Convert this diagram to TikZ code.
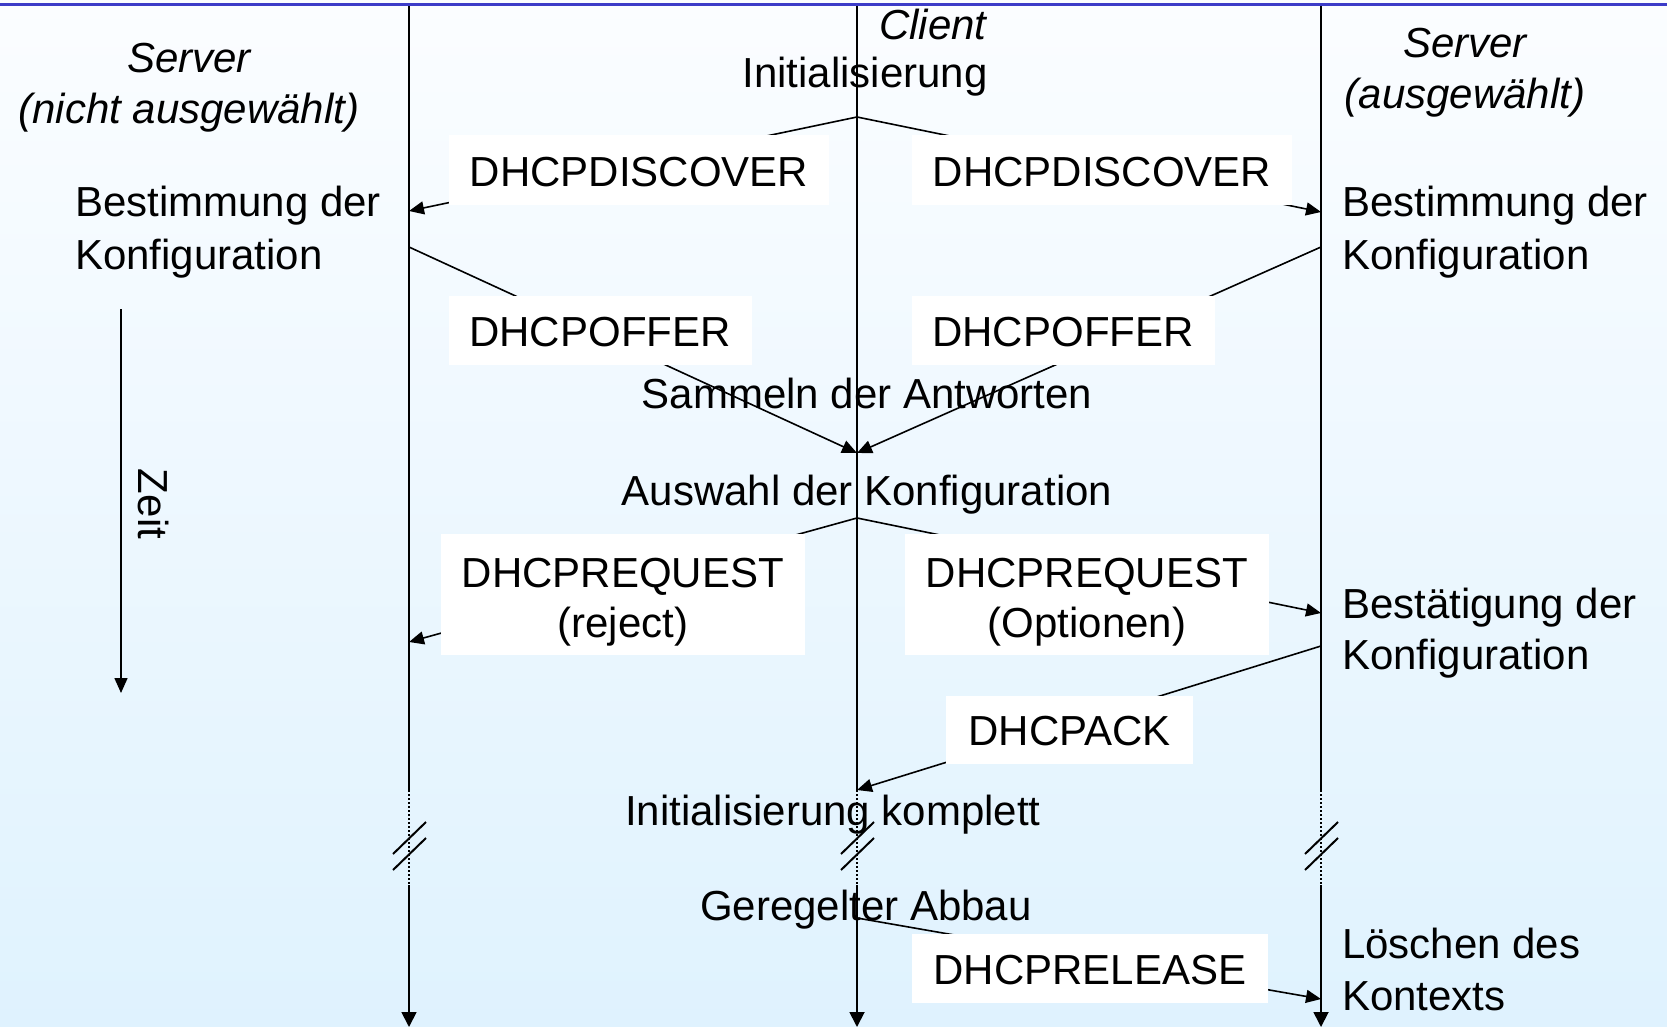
\documentclass[tikz,border=0pt]{standalone}
\usepackage{fontspec}
\setmainfont{Liberation Sans}
\usetikzlibrary{arrows.meta}
\definecolor{bgtop}{RGB}{251,253,255}
\definecolor{bgbot}{RGB}{223,242,254}
\definecolor{topline}{RGB}{60,60,200}
\begin{document}
\begin{tikzpicture}[x=1pt,y=-1pt,
  txt/.style={font=\fontsize{42}{51}\selectfont, inner sep=0pt, anchor=base},
  txtl/.style={txt, anchor=base west},
  ital/.style={txt, font=\fontsize{42}{51}\selectfont\itshape},
  msgbox/.style={fill=white, draw=none, inner sep=0pt},
  life/.style={line width=1.8pt},
  lifeend/.style={line width=1.8pt, -{Triangle[length=15pt,width=15pt]}},
  msg/.style={line width=1.6pt, -{Triangle[length=15pt,width=13pt]}},
  brk/.style={line width=1.8pt, dash pattern=on 2pt off 2pt},
  slash/.style={line width=2pt},
]
\useasboundingbox (0,0) rectangle (1667,1027);
\shade[top color=bgtop, bottom color=bgbot] (0,0) rectangle (1667,1027);

% lifeline coordinates
\foreach \n/\x in {L/409, C/857, R/1321}{
  \coordinate (\n top) at (\x,5);
  \coordinate (\n b1) at (\x,790);
  \coordinate (\n b2) at (\x,885);
  \coordinate (\n bot) at (\x,1027);
  \coordinate (\n mid) at (\x,846);
}
\foreach \n in {L,C,R}{
  \draw[life] (\n top) -- (\n b1);
  \draw[brk] (\n b1) -- (\n b2);
  \draw[lifeend] (\n b2) -- (\n bot);
  \draw[slash] ([shift={(-16,8)}]\n mid) -- ++(33,-32);
  \draw[slash] ([shift={(-16,24)}]\n mid) -- ++(33,-32);
}

% message end points
\coordinate (cDisc) at (857,117);
\coordinate (lDisc) at (409,211);
\coordinate (rDisc) at (1321,212);
\coordinate (lOff) at (409,247);
\coordinate (rOff) at (1321,247);
\coordinate (cOff) at (857,453);
\coordinate (cReq) at (857,518);
\coordinate (lReq) at (409,642);
\coordinate (rReq) at (1321,613);
\coordinate (rAck) at (1321,646);
\coordinate (cAck) at (857,790);
\coordinate (cRel) at (857,918);
\coordinate (rRel) at (1321,999);

\draw[msg] (cDisc) -- (lDisc);
\draw[msg] (cDisc) -- (rDisc);
\draw[msg] (lOff) -- (cOff);
\draw[msg] (rOff) -- (cOff);
\draw[msg] (cReq) -- (lReq);
\draw[msg] (cReq) -- (rReq);
\draw[msg] (rAck) -- (cAck);
\draw[msg] (cRel) -- (rRel);

% white label boxes
\node[msgbox, minimum width=380pt, minimum height=70pt] (discLbox) at (639,170) {};
\node[msgbox, minimum width=380pt, minimum height=70pt] (discRbox) at (1102,170) {};
\node[msgbox, minimum width=303pt, minimum height=69pt] (offLbox) at (600.5,330.5) {};
\node[msgbox, minimum width=303pt, minimum height=69pt] (offRbox) at (1063.5,330.5) {};
\node[msgbox, minimum width=364pt, minimum height=121pt] (reqLbox) at (623,594.5) {};
\node[msgbox, minimum width=364pt, minimum height=121pt] (reqRbox) at (1087,594.5) {};
\node[msgbox, minimum width=247pt, minimum height=68pt] (ackbox) at (1069.5,730) {};
\node[msgbox, minimum width=356pt, minimum height=69pt] (relbox) at (1090,968.5) {};

% box texts
\node[txt] (discL) at (639,186) {DHCPDISCOVER};
\node[txt] (discR) at (1102,186) {DHCPDISCOVER};
\node[txt] (offL) at (600,346) {DHCPOFFER};
\node[txt] (offR) at (1063,346) {DHCPOFFER};
\node[txt] (reqL1) at (623,587) {DHCPREQUEST};
\node[txt] (reqL2) at (623,637) {(reject)};
\node[txt] (reqR1) at (1087,587) {DHCPREQUEST};
\node[txt] (reqR2) at (1087,637) {(Optionen)};
\node[txt] (ack) at (1069.5,745) {DHCPACK};
\node[txt] (rel) at (1090,984) {DHCPRELEASE};

% headings
\node[ital] (srvL1) at (189,73) {Server};
\node[ital] (srvL2) at (189,124) {(nicht ausgewählt)};
\node[ital] (srvR1) at (1465,58) {Server};
\node[ital] (srvR2) at (1465,109) {(ausgewählt)};
\node[ital] (client) at (933,40) {Client};

% other texts
\node[txt] (init) at (865,88) {Initialisierung};
\node[txtl] (bestL1) at (75,217) {Bestimmung der};
\node[txtl] (bestL2) at (75,269) {Konfiguration};
\node[txtl] (bestR1) at (1342,217) {Bestimmung der};
\node[txtl] (bestR2) at (1342,269) {Konfiguration};
\node[txt] (samm) at (867,408) {Sammeln der Antworten};
\node[txt] (ausw) at (867,505) {Auswahl der Konfiguration};
\node[txtl] (bestae1) at (1342,618) {Bestätigung der};
\node[txtl] (bestae2) at (1342,669) {Konfiguration};
\node[txt] (initk) at (833,825) {Initialisierung komplett};
\node[txt] (ger) at (866,920) {Geregelter Abbau};
\node[txtl] (loe1) at (1342,958) {Löschen des};
\node[txtl] (loe2) at (1342,1010) {Kontexts};

% time axis
\coordinate (zt) at (121,309);
\coordinate (zb) at (121,693);
\draw[msg] (zt) -- (zb);
\node[txt, anchor=center, rotate=-90] (zeit) at (154,504) {Zeit};

% top rule
\coordinate (tl) at (0,5);
\coordinate (tr) at (1667,5);
\draw[topline, line width=3pt] (tl) -- (tr);
\end{tikzpicture}
\end{document}
